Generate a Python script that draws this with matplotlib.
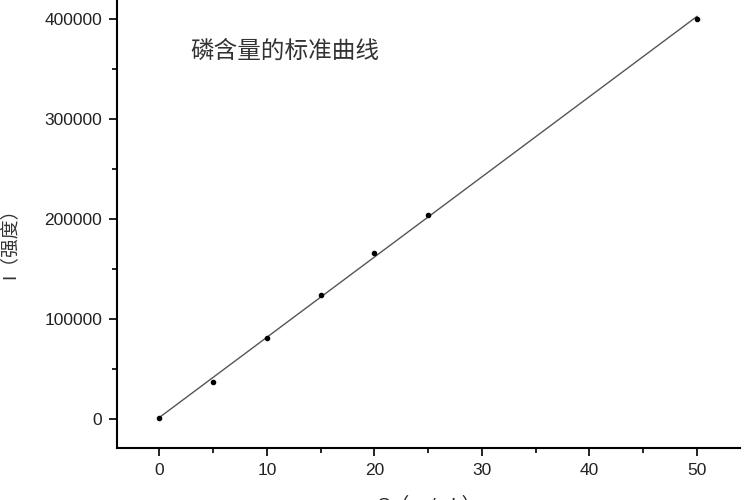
import numpy as np
import matplotlib
matplotlib.use('Agg')
import matplotlib.pyplot as plt
from matplotlib.ticker import MultipleLocator

plt.rcParams['font.family'] = ['Liberation Sans', 'Noto Sans CJK SC', 'DejaVu Sans']

# concentration and intensity
conc = [0, 5, 10, 15, 20, 25, 50]
intensity = [1500, 37400, 81200, 124000, 166100, 204200, 400000]

title = '磷含量的标准曲线'
xlabel = 'C（μg/mL）'
ylabel = 'I（强度）'

fig = plt.figure(figsize=(7.5, 5), dpi=100)
ax = fig.add_axes([0.1556, 0.1034, 0.8311, 0.8966])

# linear fit through the standards
k, b = np.polyfit(conc, intensity, 1)
xf = np.array([conc[0], conc[-1]])
ax.plot(xf, k * xf + b, color='#555555', linewidth=1.0, zorder=2)
ax.plot(conc, intensity, 'o', color='black', markersize=3, zorder=3)

ax.set_xlim(-3.96, 54.0)
ax.set_ylim(-29000, 419000)

ax.xaxis.set_major_locator(MultipleLocator(10))
ax.xaxis.set_minor_locator(MultipleLocator(5))
ax.yaxis.set_major_locator(MultipleLocator(100000))
ax.yaxis.set_minor_locator(MultipleLocator(50000))

for s in ['top', 'right']:
    ax.spines[s].set_visible(False)
for s in ['left', 'bottom']:
    ax.spines[s].set_linewidth(1.5)

ax.tick_params(which='major', direction='out', length=6, width=1.4,
               labelsize=12.5, pad=4.5, colors='#222222')
ax.tick_params(which='minor', direction='out', length=3.5, width=1.2)

ax.set_xlabel(xlabel, fontsize=13.5, labelpad=12, color='#222222')
ax.set_ylabel(ylabel, fontsize=13.5, color='#333333')
ax.yaxis.set_label_coords(-0.158, 0.468)

ax.text(0.27, 0.886, title, transform=ax.transAxes, ha='center', va='center',
        fontsize=17, color='#333333', family=['Noto Sans CJK SC', 'DejaVu Sans'])

fig.savefig('out.png', dpi=100)
